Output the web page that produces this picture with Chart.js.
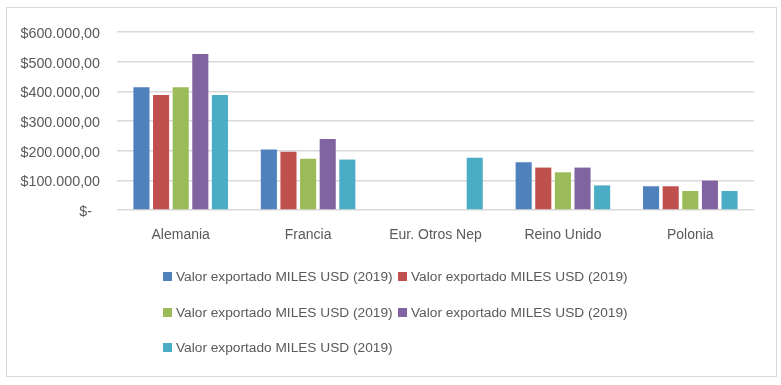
<!DOCTYPE html>
<html>
<head>
<meta charset="utf-8">
<script src="https://cdn.jsdelivr.net/npm/chart.js@4"></script>
<style>
  html, body { margin:0; padding:0; background:#fff; }
  #wrap { position:relative; width:781px; height:385px; overflow:hidden; }
  #frame { position:absolute; left:6px; top:7px; width:769px; height:368px; border:1.5px solid #d9d9d9; pointer-events:none; }
  canvas { position:absolute; left:0; top:0; }
  #legend { position:absolute; left:0; top:0; font-family:"Liberation Sans", Arial, sans-serif; font-size:13.7px; color:#595959; }
  .li { position:absolute; white-space:nowrap; line-height:16px; }
  .sw { position:absolute; width:9px; height:9px; left:0; top:3px; }
  .tx { position:absolute; left:13px; top:0; }
</style>
</head>
<body>
<div id="wrap">
  <canvas id="c" width="781" height="385"></canvas>
  <div id="legend"></div>
  <div id="frame"></div>
</div>
<script>
const categories = ["Alemania", "Francia", "Eur. Otros Nep", "Reino Unido", "Polonia"];
const seriesNames = [
  "Valor exportado MILES USD (2019)",
  "Valor exportado MILES USD (2019)",
  "Valor exportado MILES USD (2019)",
  "Valor exportado MILES USD (2019)",
  "Valor exportado MILES USD (2019)"
];
const series1 = [414000, 204000, null, 161000, 80000];
const series2 = [388000, 196000, null, 143000, 80000];
const series3 = [414000, 173000, null, 127000, 64000];
const series4 = [526000, 239000, null, 143000, 99000];
const series5 = [388000, 170000, 176000, 83000, 64000];
const yTicks = [0, 100000, 200000, 300000, 400000, 500000, 600000];
const colors = ["#4F81BD", "#C0504D", "#9BBB59", "#8064A2", "#4BACC6"];

const allSeries = [series1, series2, series3, series4, series5];

function fmt(v) {
  if (v === 0) return "$-  ";
  const s = Math.round(v).toString().replace(/\B(?=(\d{3})+(?!\d))/g, ".");
  return "$" + s + ",00";
}

const FONT = "'Liberation Sans', Arial, sans-serif";

const chart = new Chart(document.getElementById("c"), {
  type: "bar",
  data: {
    labels: categories,
    datasets: allSeries.map((d, i) => ({
      label: seriesNames[i],
      data: d,
      backgroundColor: colors[i],
      borderWidth: 0,
      categoryPercentage: 0.77,
      barPercentage: 0.82
    }))
  },
  options: {
    responsive: false,
    animation: false,
    layout: { padding: { left: 0, right: 27, top: 32, bottom: 135 } },
    plugins: { legend: { display: false }, tooltip: { enabled: false } },
    scales: {
      x: {
        grid: { display: false },
        border: { display: false },
        ticks: { color: "#595959", font: { family: FONT, size: 14 }, padding: 9, maxRotation: 0 },
        afterFit: s => { s.height = 40; }
      },
      y: {
        min: 0, max: 600000,
        afterBuildTicks: s => { s.ticks = yTicks.map(v => ({ value: v })); },
        grid: { color: "#d9d9d9", lineWidth: 1.5, drawTicks: false },
        border: { display: false },
        ticks: { color: "#595959", font: { family: FONT, size: 14.3 }, padding: 17, labelOffset: 2, callback: v => fmt(v) },
        afterFit: s => { s.width = 117; }
      }
    }
  }
});

// Legend grid (Excel-style, left aligned columns)
const legend = document.getElementById("legend");
const colX = [163, 398];
const rowY = [269, 305, 340];
chart.data.datasets.forEach((ds, i) => {
  const el = document.createElement("div");
  el.className = "li";
  el.style.left = colX[i % 2] + "px";
  el.style.top = rowY[Math.floor(i / 2)] + "px";
  const sw = document.createElement("span");
  sw.className = "sw";
  sw.style.background = ds.backgroundColor;
  const tx = document.createElement("span");
  tx.className = "tx";
  tx.textContent = ds.label;
  el.appendChild(sw); el.appendChild(tx);
  legend.appendChild(el);
});
</script>
</body>
</html>
